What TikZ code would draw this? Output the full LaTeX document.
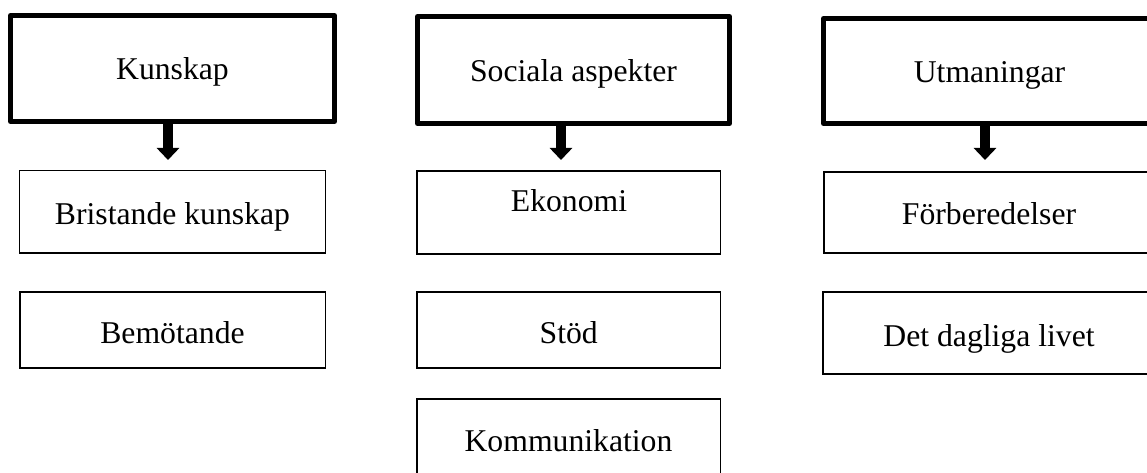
\documentclass[tikz,border=0pt]{standalone}
\usepackage{fontspec}
\setmainfont{Liberation Serif}
\usetikzlibrary{arrows.meta}
\tikzset{
  headbox/.style={draw=black, line width=5pt, line join=round, fill=white, inner sep=0pt},
  subbox/.style={draw=black, line width=1.3pt, fill=white, inner sep=0pt},
  lbl/.style={anchor=base, inner sep=0pt, font=\fontsize{31.7}{38}\selectfont},
  blockarrow/.style={line width=10pt, -{Triangle[width=22pt,length=12pt]}}
}
\begin{document}
\begin{tikzpicture}[x=1pt,y=-1pt]
\useasboundingbox (0,0) rectangle (1147,473);
\clip (0,0) rectangle (1147,473);
% top boxes
\node[headbox, minimum width=324pt, minimum height=106pt] (k) at (172.5,68.5) {};
\node[headbox, minimum width=312pt, minimum height=107pt] (s) at (573.5,70) {};
\node[headbox, minimum width=332pt, minimum height=105pt] (u) at (989.5,71) {};
\node[lbl] (kt) at (172.5,80) {Kunskap};
\node[lbl] (st) at (573.5,82) {Sociala aspekter};
\node[lbl] (ut) at (989.5,83) {Utmaningar};
% arrow tips
\coordinate (ka) at (168,160);
\coordinate (sa) at (561,160);
\coordinate (ua) at (985,160);
\draw[blockarrow] (ka |- k.south) -- (ka);
\draw[blockarrow] (sa |- s.south) -- (sa);
\draw[blockarrow] (ua |- u.south) -- (ua);
% left column
\node[subbox, minimum width=306pt, minimum height=82.5pt] (k1) at (172.5,211.75) {};
\node[subbox, minimum width=305.5pt, minimum height=76pt] (k2) at (172.75,330) {};
\node[lbl] at (172.5,224) {Bristande kunskap};
\node[lbl] at (172.5,343) {Bemötande};
% middle column
\node[subbox, minimum width=303.5pt, minimum height=83pt] (s1) at (568.75,212.5) {};
\node[subbox, minimum width=303.5pt, minimum height=76pt] (s2) at (568.75,330) {};
\node[subbox, minimum width=303.5pt, minimum height=86pt] (s3) at (568.75,442) {};
\node[lbl] at (569,211) {Ekonomi};
\node[lbl] at (568.75,343) {Stöd};
\node[lbl] at (568.5,451) {Kommunikation};
% right column
\node[subbox, minimum width=331pt, minimum height=81pt] (u1) at (989.5,212.5) {};
\node[subbox, minimum width=332pt, minimum height=82pt] (u2) at (989,333) {};
\node[lbl] at (989,224) {Förberedelser};
\node[lbl] at (989,346) {Det dagliga livet};
\end{tikzpicture}
\end{document}
